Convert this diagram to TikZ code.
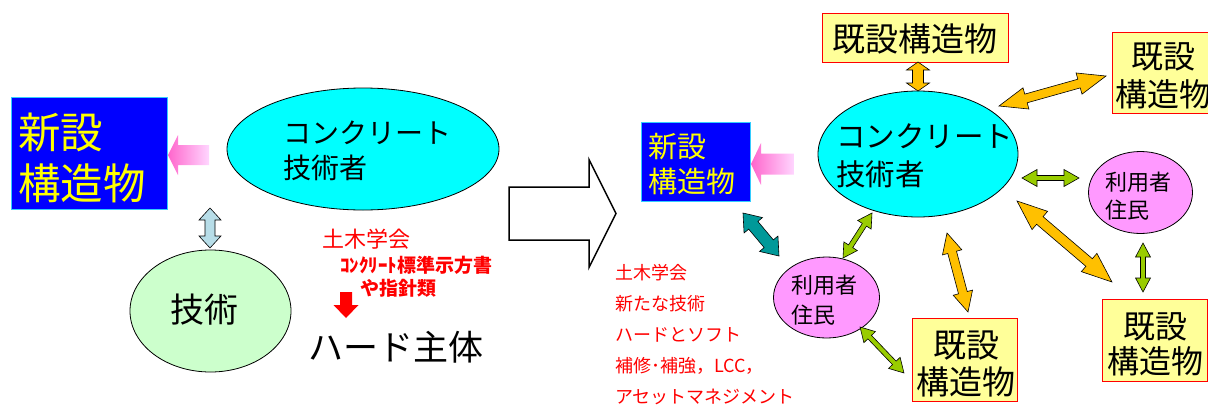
\documentclass[tikz,border=0pt]{standalone}
\usepackage{fontspec}
\setmainfont{Noto Sans CJK JP}
\usetikzlibrary{shapes.geometric,calc}

\definecolor{cyanfill}{RGB}{0,255,255}
\definecolor{ltgreen}{RGB}{204,255,204}
\definecolor{pinkell}{RGB}{255,153,255}
\definecolor{boxyellow}{RGB}{255,255,153}
\definecolor{orangearr}{RGB}{255,192,0}
\definecolor{greenarr}{RGB}{153,204,0}
\definecolor{tealarr}{RGB}{0,153,153}
\definecolor{bluegray}{RGB}{183,221,232}
\definecolor{pinkdark}{RGB}{255,102,204}
\definecolor{pinklight}{RGB}{255,214,255}
\definecolor{newblue}{RGB}{0,0,255}
\definecolor{newborder}{RGB}{51,204,255}
\definecolor{txtyellow}{RGB}{255,255,0}

\newcommand\fsz[2]{\fontsize{#1pt}{#2pt}\selectfont}

% block double arrow: #1 from, #2 to, #3 shaft half width, #4 head half width, #5 head length, #6 fill
\newcommand\dblarr[6]{%
  \path let \p1=($(#2)-(#1)$) in
    \pgfextra{\pgfmathsetmacro\tmpang{atan2(\y1,\x1)}%
              \pgfmathsetmacro\tmplen{veclen(\x1,\y1)}%
              \global\let\dbang\tmpang\global\let\dblen\tmplen};
  \draw[dblstyle, fill=#6, shift={(#1)}, rotate=\dbang, x=1pt, y=1pt]
    (0,0) -- (#5,#4) -- (#5,#3) -- ({\dblen-#5},#3) -- ({\dblen-#5},#4)
    -- (\dblen,0) -- ({\dblen-#5},-#4) -- ({\dblen-#5},-#3) -- (#5,-#3)
    -- (#5,-#4) -- cycle;
}

\begin{document}
\begin{tikzpicture}[x=1pt,y=-1pt,
  ell/.style={ellipse, draw=black, line width=0.8pt, inner sep=0pt},
  txt/.style={inner sep=0pt, align=left, anchor=west},
  ctxt/.style={inner sep=0pt, align=center},
  newbox/.style={rectangle, draw=newborder, fill=newblue, line width=1pt, inner sep=0pt},
  oldbox/.style={rectangle, draw=red, fill=boxyellow, line width=1pt, inner sep=0pt},
  dblstyle/.style={draw=black, line width=0.6pt, line join=miter}]
\useasboundingbox (0,0) rectangle (1208,405);
\clip (0,0) rectangle (1208,405);

% ---------------- left half ----------------
\node[newbox, minimum width=156pt, minimum height=112pt] (newL) at (89,153) {};
\node[txt, text=txtyellow, font=\fsz{42.5}{51}] (newLt) at (18,157.5) {新設\\構造物};

\node[ell, fill=cyanfill, minimum width=272pt, minimum height=122pt] (ellL) at (363,149) {};
\node[txt, font=\fsz{28}{35}] (ellLt) at (283,150.5) {コンクリート\\技術者};

\node[ell, fill=ltgreen, minimum width=161pt, minimum height=122pt] (gijL) at (210.5,311) {};
\node[ctxt, font=\fsz{34}{40}] (gijLt) at (204,310) {技術};

% pink arrow (left)
\coordinate (pkLa) at (209,155);
\coordinate (pkLb) at (168,155);
\shade[left color=pinkdark, right color=pinklight]
  (pkLb) -- ($(pkLb)+(10,-20)$) -- ($(pkLb)+(10,-10)$) -- ($(pkLa)+(0,-10)$)
  -- ($(pkLa)+(0,10)$) -- ($(pkLb)+(10,10)$) -- ($(pkLb)+(10,20)$) -- cycle;

% blue-gray double arrow
\coordinate (bgA) at (210,208);
\coordinate (bgB) at (210,248);
\dblarr{bgA}{bgB}{5}{11}{12}{bluegray}

% red texts
\node[txt, text=red, font=\fsz{22}{26}] (doboku1) at (322,239) {土木学会};
\node[txt, text=red, font=\bfseries\fsz{19}{22}] (hyojun) at (340,265) {ｺﾝｸﾘｰﾄ標準示方書};
\node[txt, text=red, font=\bfseries\fsz{19}{22}] (shishin) at (360,288) {や指針類};

% red down arrow
\coordinate (rdA) at (346,292);
\coordinate (rdB) at (346,318);
\fill[red] ($(rdA)+(-6,0)$) -- ($(rdA)+(6,0)$) -- ($(rdB)+(6,-13)$) -- ($(rdB)+(12.5,-13)$)
  -- (rdB) -- ($(rdB)+(-12.5,-13)$) -- ($(rdB)+(-6,-13)$) -- cycle;

\node[txt, font=\fsz{35}{40}] (hard) at (308,347) {ハード主体};

% big hollow arrow
\coordinate (bigA) at (509,213.5);
\coordinate (bigB) at (616,213.5);
\draw[line width=1.5pt, line join=miter, fill=white]
  ($(bigA)+(0,-26.5)$) -- ($(bigB)+(-27,-26.5)$) -- ($(bigB)+(-27,-54)$) -- (bigB)
  -- ($(bigB)+(-27,54)$) -- ($(bigB)+(-27,26.5)$) -- ($(bigA)+(0,26.5)$) -- cycle;

% ---------------- right half ----------------
\node[newbox, minimum width=109pt, minimum height=79pt] (newR) at (695.5,161.5) {};
\node[txt, text=txtyellow, font=\fsz{29}{35}] (newRt) at (648,164.5) {新設\\構造物};

% pink arrow (right)
\coordinate (pkRa) at (794,164);
\coordinate (pkRb) at (751,164);
\shade[left color=pinkdark, right color=pinklight]
  (pkRb) -- ($(pkRb)+(10,-21)$) -- ($(pkRb)+(10,-10.5)$) -- ($(pkRa)+(0,-10.5)$)
  -- ($(pkRa)+(0,10.5)$) -- ($(pkRb)+(10,10.5)$) -- ($(pkRb)+(10,21)$) -- cycle;

\node[ell, fill=cyanfill, minimum width=200pt, minimum height=126pt] (ellR) at (918,154) {};
\node[txt, font=\fsz{29.5}{38}] (ellRt) at (836,156) {コンクリート\\技術者};

\node[ell, fill=pinkell, minimum width=104pt, minimum height=82pt] (userR) at (1140.5,192.5) {};
\node[txt, font=\fsz{22}{28}] (userRt) at (1105,196) {利用者\\住民};

\node[ell, fill=pinkell, minimum width=106pt, minimum height=81pt] (userL) at (826.5,297.5) {};
\node[txt, font=\fsz{22}{30}] (userLt) at (791,300) {利用者\\住民};

\node[oldbox, minimum width=186pt, minimum height=49pt] (exT) at (915,37.5) {};
\node[ctxt, font=\fsz{33}{38}] (exTt) at (914.5,39) {既設構造物};

\node[oldbox, minimum width=104pt, minimum height=81pt] (exTR) at (1164,72.5) {};
\node[ctxt, font=\fsz{32}{38}] (exTRt) at (1163,76) {既設\\構造物};

\node[oldbox, minimum width=105pt, minimum height=82pt] (exBR) at (1154.5,340) {};
\node[ctxt, font=\fsz{32}{35}] (exBRt) at (1155,344.5) {既設\\構造物};

\node[oldbox, minimum width=105pt, minimum height=83pt] (exB) at (964.5,359.5) {};
\node[ctxt, font=\fsz{33}{37}] (exBt) at (966,363.5) {既設\\構造物};

\node[txt, text=red, font=\fsz{18}{31.2}] (listR) at (615,334.5)
  {土木学会\\新たな技術\\ハードとソフト\\補修･補強，LCC，\\アセットマネジメント};

% connectors (block double arrows)
\coordinate (o1a) at (918,62);    \coordinate (o1b) at (918,91);
\coordinate (o2a) at (999,106);   \coordinate (o2b) at (1106,76);
\coordinate (o3a) at (1017,201);  \coordinate (o3b) at (1112,282);
\coordinate (o4a) at (947,233);   \coordinate (o4b) at (968,312);
\coordinate (g1a) at (1022,178);  \coordinate (g1b) at (1079,178);
\coordinate (g2a) at (1143,243);  \coordinate (g2b) at (1143,292);
\coordinate (g3a) at (872,213);   \coordinate (g3b) at (843,258);
\coordinate (g4a) at (860,327);   \coordinate (g4b) at (904,373);
\coordinate (t1a) at (743,213);   \coordinate (t1b) at (779,256);

\dblarr{o1a}{o1b}{5.5}{11.5}{8}{orangearr}
\dblarr{o2a}{o2b}{4.5}{11}{28}{orangearr}
\dblarr{o3a}{o3b}{5}{12}{30}{orangearr}
\dblarr{o4a}{o4b}{4.5}{10}{20}{orangearr}
\dblarr{g1a}{g1b}{2.5}{8.5}{15}{greenarr}
\dblarr{g2a}{g2b}{2.5}{7.5}{14}{greenarr}
\dblarr{g3a}{g3b}{2.5}{8}{14}{greenarr}
\dblarr{g4a}{g4b}{2.5}{8}{14}{greenarr}
\dblarr{t1a}{t1b}{6}{12}{16}{tealarr}
\end{tikzpicture}
\end{document}
